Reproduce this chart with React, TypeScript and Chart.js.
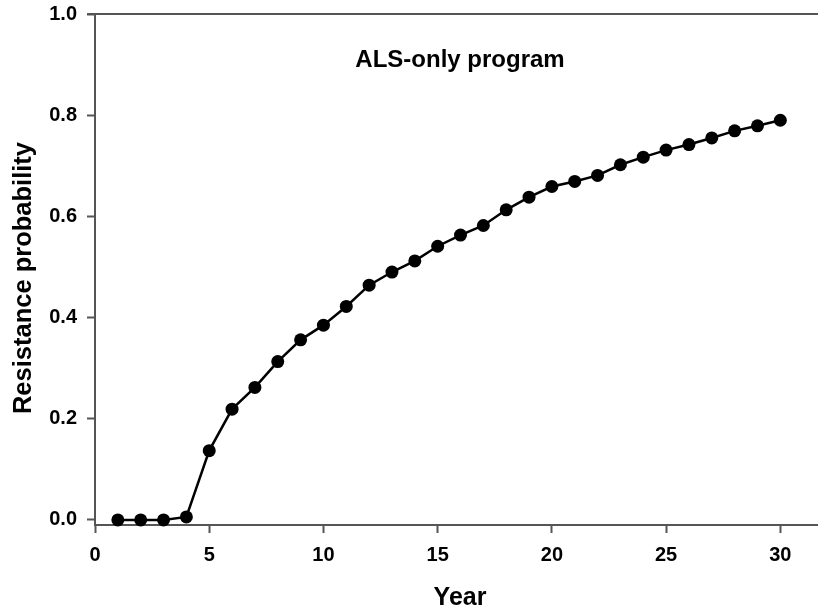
import React, { useEffect, useRef } from "react";
import { Chart, registerables } from "chart.js";

Chart.register(...registerables);

const years = [1, 2, 3, 4, 5, 6, 7, 8, 9, 10, 11, 12, 13, 14, 15, 16, 17, 18, 19, 20, 21, 22, 23, 24, 25, 26, 27, 28, 29, 30];
const resistance = [0.0, 0.0, 0.0, 0.006, 0.137, 0.219, 0.262, 0.313, 0.356, 0.385, 0.422, 0.464, 0.49, 0.512, 0.541, 0.563, 0.582, 0.613, 0.638, 0.659, 0.669, 0.681, 0.702, 0.717, 0.731, 0.742, 0.755, 0.769, 0.779, 0.79];
const xTickValues = [0, 5, 10, 15, 20, 25, 30];
const yTickValues = [0, 0.2, 0.4, 0.6, 0.8, 1.0];
const chartTitle = "ALS-only program";
const xTitle = "Year";
const yTitle = "Resistance probability";

const FONT = "'Liberation Sans', Arial, Helvetica, sans-serif";
const AXIS_COLOR = "#555555";

const textPlugin = {
  id: "textPlugin",
  afterDraw(chart: any) {
    const { ctx, chartArea } = chart;
    ctx.save();
    ctx.strokeStyle = AXIS_COLOR;
    ctx.lineWidth = 2;
    ctx.beginPath();
    ctx.moveTo(chartArea.left - 8, chartArea.top);
    ctx.lineTo(chartArea.right, chartArea.top);
    ctx.stroke();

    ctx.fillStyle = "#000";
    ctx.textAlign = "center";
    ctx.textBaseline = "middle";
    ctx.font = `bold 24px ${FONT}`;
    ctx.fillText(chartTitle, 460, 60);

    ctx.font = `bold 25px ${FONT}`;
    ctx.fillText(xTitle, 460, 598);

    ctx.translate(24, 278);
    ctx.rotate(-Math.PI / 2);
    ctx.font = `bold 25.5px ${FONT}`;
    ctx.fillText(yTitle, 0, 0);
    ctx.restore();
  },
};

const zeroPadding = (scale: any) => {
  scale.paddingTop = 0;
  scale.paddingBottom = 0;
  scale.paddingLeft = 0;
  scale.paddingRight = 0;
};

export default function App() {
  const ref = useRef<HTMLCanvasElement | null>(null);
  useEffect(() => {
    document.body.style.margin = "0";
    const canvas = ref.current!;
    const chart = new Chart(canvas, {
      type: "line",
      data: {
        datasets: [
          {
            data: years.map((y, i) => ({ x: y, y: resistance[i] })),
            borderColor: "#000",
            borderWidth: 2.5,
            pointRadius: 6.5,
            pointBackgroundColor: "#000",
            pointBorderColor: "#000",
            pointBorderWidth: 0,
            tension: 0,
            clip: false as any,
          },
        ],
      },
      options: {
        animation: false,
        responsive: false,
        devicePixelRatio: 1,
        layout: { autoPadding: false, padding: { left: 0, top: 14, right: 0, bottom: 0 } },
        plugins: {
          legend: { display: false },
          tooltip: { enabled: false },
          title: { display: false },
        },
        scales: {
          x: {
            type: "linear",
            min: 0,
            max: 32,
            afterBuildTicks: (scale: any) => {
              scale.ticks = xTickValues.map((v) => ({ value: v }));
            },
            afterFit: (scale: any) => {
              scale.height = 89;
              zeroPadding(scale);
            },
            ticks: {
              color: "#000",
              font: { family: FONT, size: 20, weight: "bold" },
              padding: 10,
              maxRotation: 0,
              callback: (v: any) => String(v),
            },
            grid: {
              drawOnChartArea: false,
              drawTicks: true,
              tickLength: 8,
              tickColor: AXIS_COLOR,
              tickWidth: 2,
            },
            border: { display: true, color: AXIS_COLOR, width: 2 },
          },
          y: {
            type: "linear",
            min: -0.01,
            max: 1.0,
            afterBuildTicks: (scale: any) => {
              scale.ticks = yTickValues.map((v) => ({ value: v }));
            },
            afterFit: (scale: any) => {
              scale.width = 95;
              zeroPadding(scale);
            },
            ticks: {
              color: "#000",
              font: { family: FONT, size: 20, weight: "bold" },
              padding: 10,
              callback: (v: any) => Number(v).toFixed(1),
            },
            grid: {
              drawOnChartArea: false,
              drawTicks: true,
              tickLength: 8,
              tickColor: AXIS_COLOR,
              tickWidth: 2,
            },
            border: { display: true, color: AXIS_COLOR, width: 2 },
          },
        },
      },
      plugins: [textPlugin],
    });
    return () => chart.destroy();
  }, []);
  return (
    <div style={{ width: 818, height: 614, overflow: "hidden", position: "relative" }}>
      <canvas ref={ref} width={826} height={614} style={{ width: 826, height: 614, display: "block" }} />
    </div>
  );
}
